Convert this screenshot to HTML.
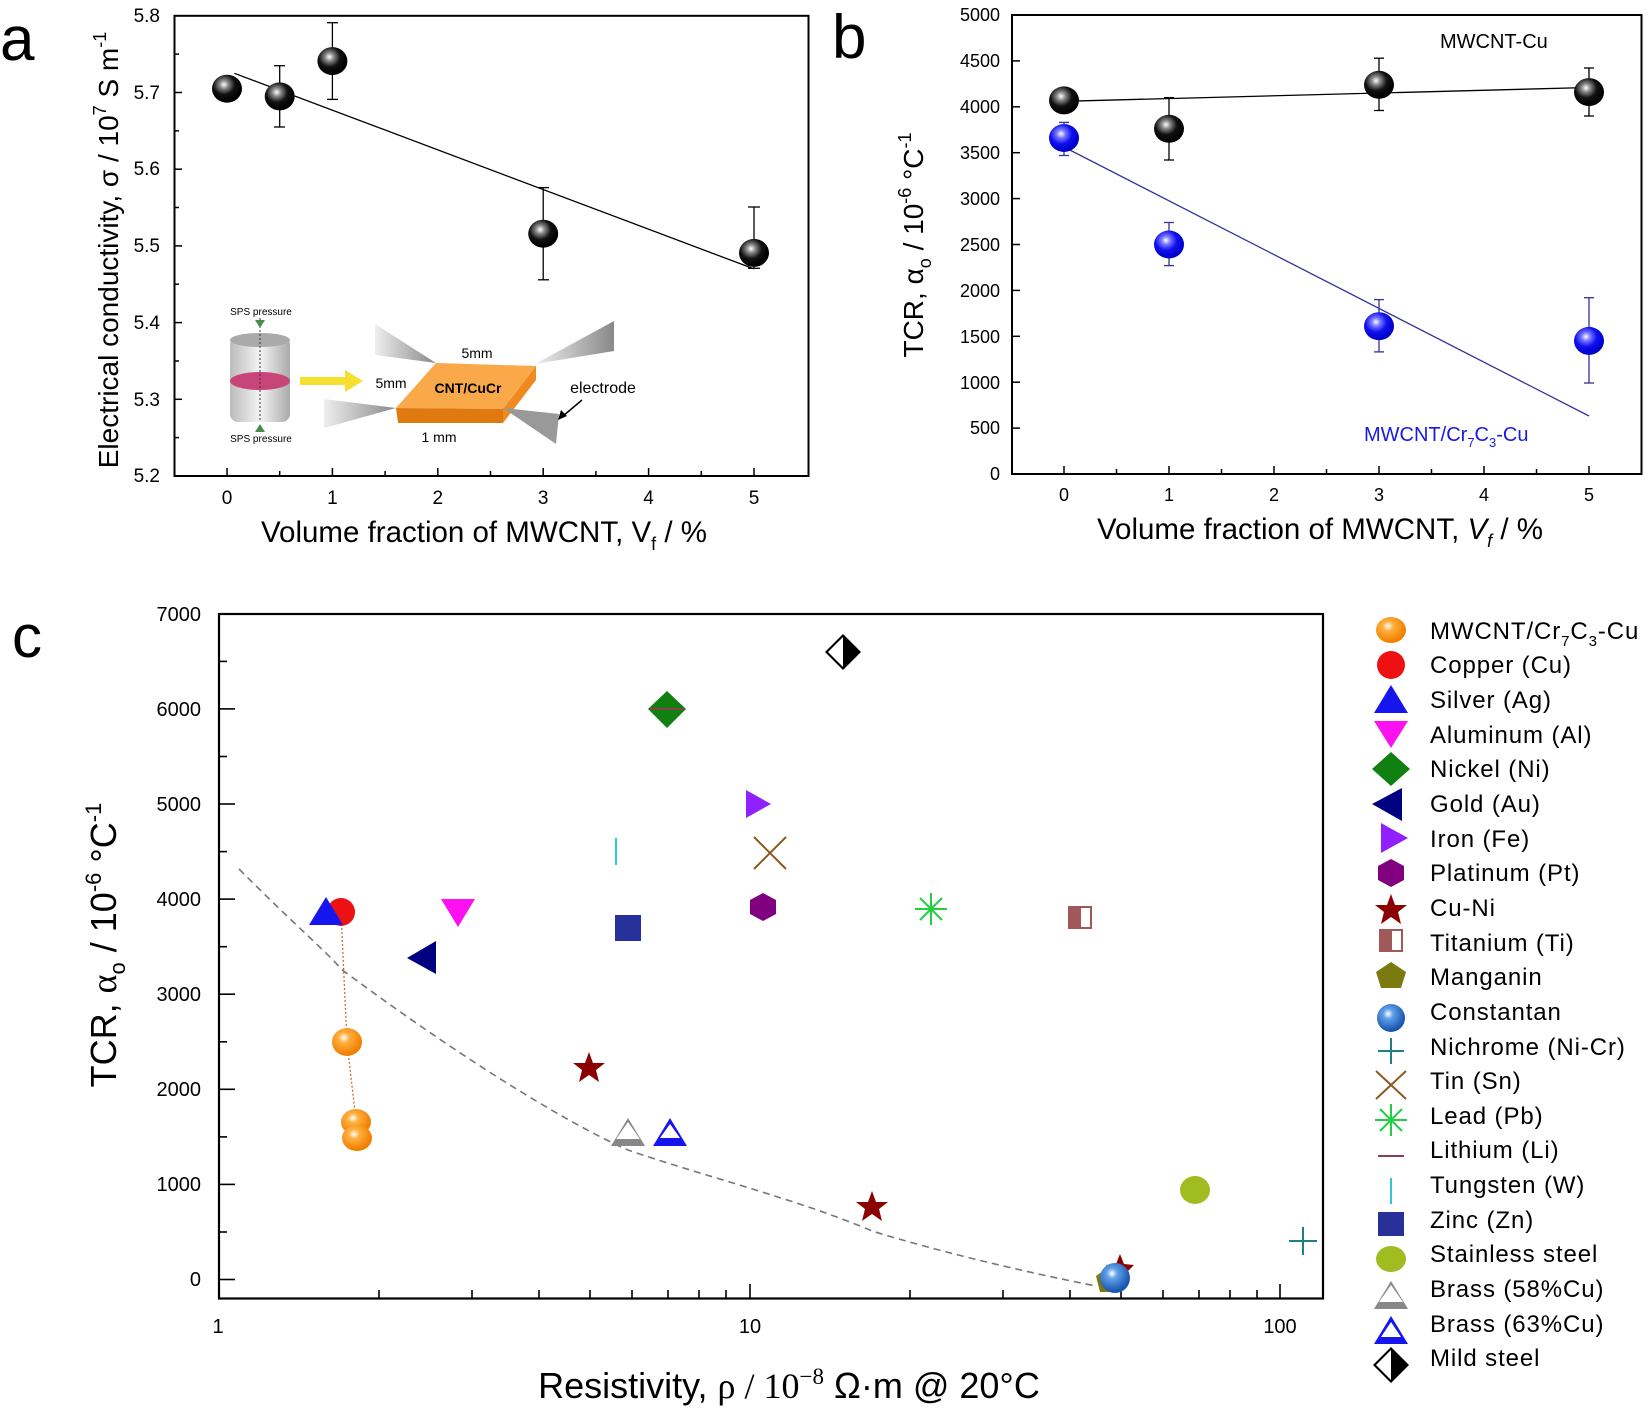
<!DOCTYPE html>
<html><head><meta charset="utf-8"><style>
html,body{margin:0;padding:0;background:#fff;}
svg{display:block;font-family:"Liberation Sans",Arial,sans-serif;}
</style></head><body>
<svg width="1650" height="1410" viewBox="0 0 1650 1410" xmlns="http://www.w3.org/2000/svg">
<defs>
<radialGradient id="gk" cx="0.4" cy="0.35" r="0.6"><stop offset="0" stop-color="#fff"/><stop offset="0.25" stop-color="#888"/><stop offset="0.6" stop-color="#111"/><stop offset="1" stop-color="#000"/></radialGradient>
<radialGradient id="gb" cx="0.4" cy="0.35" r="0.6"><stop offset="0" stop-color="#fff"/><stop offset="0.25" stop-color="#77f"/><stop offset="0.6" stop-color="#1010ee"/><stop offset="1" stop-color="#0000cc"/></radialGradient>
<radialGradient id="go" cx="0.4" cy="0.35" r="0.6"><stop offset="0" stop-color="#fff"/><stop offset="0.3" stop-color="#ffb040"/><stop offset="1" stop-color="#f08000"/></radialGradient>
<radialGradient id="gc" cx="0.4" cy="0.35" r="0.6"><stop offset="0" stop-color="#fff"/><stop offset="0.3" stop-color="#5fa0e8"/><stop offset="1" stop-color="#1a55b0"/></radialGradient>
<linearGradient id="gcyl" x1="0" x2="1"><stop offset="0" stop-color="#bbb"/><stop offset="0.5" stop-color="#f4f4f4"/><stop offset="1" stop-color="#aaa"/></linearGradient>
<linearGradient id="gel" x1="0" x2="1"><stop offset="0" stop-color="#eee"/><stop offset="1" stop-color="#888"/></linearGradient>
</defs>

<!-- ===== Panel a ===== -->
<text x="0" y="60" font-size="62">a</text>
<rect x="174.5" y="15.8" width="634" height="460.2" fill="none" stroke="#000" stroke-width="2"/>
<g stroke="#000" stroke-width="1.5">
<line x1="174.5" y1="399.3" x2="182" y2="399.3"/><line x1="174.5" y1="322.6" x2="182" y2="322.6"/><line x1="174.5" y1="245.9" x2="182" y2="245.9"/><line x1="174.5" y1="169.2" x2="182" y2="169.2"/><line x1="174.5" y1="92.5" x2="182" y2="92.5"/>
<line x1="174.5" y1="437.6" x2="179" y2="437.6"/><line x1="174.5" y1="361" x2="179" y2="361"/><line x1="174.5" y1="284.2" x2="179" y2="284.2"/><line x1="174.5" y1="207.5" x2="179" y2="207.5"/><line x1="174.5" y1="130.8" x2="179" y2="130.8"/><line x1="174.5" y1="54.1" x2="179" y2="54.1"/>
<line x1="227" y1="476" x2="227" y2="468"/><line x1="332.4" y1="476" x2="332.4" y2="468"/><line x1="437.8" y1="476" x2="437.8" y2="468"/><line x1="543.2" y1="476" x2="543.2" y2="468"/><line x1="648.6" y1="476" x2="648.6" y2="468"/><line x1="754" y1="476" x2="754" y2="468"/>
<line x1="279.7" y1="476" x2="279.7" y2="471"/><line x1="385.1" y1="476" x2="385.1" y2="471"/><line x1="490.5" y1="476" x2="490.5" y2="471"/><line x1="595.9" y1="476" x2="595.9" y2="471"/><line x1="701.3" y1="476" x2="701.3" y2="471"/>
</g>
<g font-size="19" text-anchor="end">
<text x="160" y="22">5.8</text><text x="160" y="99">5.7</text><text x="160" y="175">5.6</text><text x="160" y="252">5.5</text><text x="160" y="329">5.4</text><text x="160" y="406">5.3</text><text x="160" y="482">5.2</text>
</g>
<g font-size="19" text-anchor="middle">
<text x="227" y="504">0</text><text x="332.4" y="504">1</text><text x="437.8" y="504">2</text><text x="543.2" y="504">3</text><text x="648.6" y="504">4</text><text x="754" y="504">5</text>
</g>
<text x="484" y="542" font-size="29.5" text-anchor="middle">Volume fraction of MWCNT, V<tspan font-size="18" dy="8">f</tspan><tspan dy="-8"> / %</tspan></text>
<text transform="translate(118,250) rotate(-90)" font-size="28" text-anchor="middle">Electrical conductivity, σ / 10<tspan font-size="18" dy="-12">7</tspan><tspan dy="12"> S m</tspan><tspan font-size="18" dy="-12">-1</tspan></text>
<line x1="234.4" y1="73.3" x2="754" y2="268.9" stroke="#000" stroke-width="1.3"/>
<g stroke="#000" stroke-width="1.3">
<line x1="279.7" y1="65.7" x2="279.7" y2="127"/><line x1="274" y1="65.7" x2="285" y2="65.7"/><line x1="274" y1="127" x2="285" y2="127"/>
<line x1="332.4" y1="22.7" x2="332.4" y2="99.4"/><line x1="327" y1="22.7" x2="338" y2="22.7"/><line x1="327" y1="99.4" x2="338" y2="99.4"/>
<line x1="543.2" y1="187.6" x2="543.2" y2="279.8"/><line x1="538" y1="187.6" x2="549" y2="187.6"/><line x1="538" y1="279.8" x2="549" y2="279.8"/>
<line x1="754" y1="207" x2="754" y2="268.3"/><line x1="748" y1="207" x2="760" y2="207"/><line x1="748" y1="268.3" x2="760" y2="268.3"/>
</g>
<ellipse cx="227" cy="88.7" rx="15" ry="14" fill="url(#gk)"/>
<ellipse cx="279.7" cy="96.4" rx="15" ry="14" fill="url(#gk)"/>
<ellipse cx="332.4" cy="61.1" rx="15" ry="14" fill="url(#gk)"/>
<ellipse cx="543.2" cy="233.7" rx="15" ry="14" fill="url(#gk)"/>
<ellipse cx="754" cy="252.9" rx="15" ry="14" fill="url(#gk)"/>
<!-- inset -->
<rect x="230" y="337" width="60" height="85" rx="8" fill="url(#gcyl)"/>
<ellipse cx="260" cy="340" rx="30" ry="7" fill="#aaa"/>
<ellipse cx="260" cy="381" rx="30" ry="9" fill="#c8457a"/>
<line x1="260" y1="318" x2="260" y2="420" stroke="#333" stroke-dasharray="2,2"/>
<path d="M255 320 L265 320 L260 328Z" fill="#4a8a4a"/><path d="M255 432 L265 432 L260 424Z" fill="#4a8a4a"/>
<text x="261" y="315" font-size="10" text-anchor="middle">SPS pressure</text>
<text x="261" y="442" font-size="10" text-anchor="middle">SPS pressure</text>
<path d="M300 377 L345 377 L345 370 L363 381 L345 392 L345 385 L300 385Z" fill="#f5e030"/>
<polygon points="375,324 375,355 436,363" fill="url(#gel)"/>
<polygon points="614,321 614,351 535,364" fill="url(#gel)"/>
<polygon points="436,363 536,366 503,409 396,408" fill="#f9a84a"/>
<polygon points="396,408 503,409 503,423 398,423" fill="#e07a10"/>
<polygon points="503,409 536,366 536,380 503,423" fill="#f08a20"/>
<polygon points="324,399 324,428 396,408" fill="url(#gel)"/>
<polygon points="503,408 559,414 556,444" fill="#999"/>
<text x="477" y="358" font-size="14" text-anchor="middle">5mm</text>
<text x="391" y="388" font-size="14" text-anchor="middle">5mm</text>
<text x="468" y="393" font-size="14" font-weight="bold" text-anchor="middle">CNT/CuCr</text>
<text x="603" y="393" font-size="16" text-anchor="middle">electrode</text>
<text x="439" y="442" font-size="14" text-anchor="middle">1 mm</text>
<line x1="582" y1="400" x2="563" y2="416" stroke="#000" stroke-width="1.5"/><path d="M558 420 L561 410 L567 416Z" fill="#000"/>

<!-- ===== Panel b ===== -->
<text x="832" y="58" font-size="62">b</text>
<rect x="1012" y="15" width="629.5" height="459" fill="none" stroke="#000" stroke-width="2"/>
<g stroke="#000" stroke-width="1.5">
<line x1="1012" y1="428.1" x2="1020" y2="428.1"/><line x1="1012" y1="382.2" x2="1020" y2="382.2"/><line x1="1012" y1="336.3" x2="1020" y2="336.3"/><line x1="1012" y1="290.4" x2="1020" y2="290.4"/><line x1="1012" y1="244.5" x2="1020" y2="244.5"/><line x1="1012" y1="198.6" x2="1020" y2="198.6"/><line x1="1012" y1="152.7" x2="1020" y2="152.7"/><line x1="1012" y1="106.8" x2="1020" y2="106.8"/><line x1="1012" y1="60.9" x2="1020" y2="60.9"/>
<line x1="1064" y1="474" x2="1064" y2="466"/><line x1="1169" y1="474" x2="1169" y2="466"/><line x1="1274" y1="474" x2="1274" y2="466"/><line x1="1379" y1="474" x2="1379" y2="466"/><line x1="1484" y1="474" x2="1484" y2="466"/><line x1="1589" y1="474" x2="1589" y2="466"/>
<line x1="1116.5" y1="474" x2="1116.5" y2="469"/><line x1="1221.5" y1="474" x2="1221.5" y2="469"/><line x1="1326.5" y1="474" x2="1326.5" y2="469"/><line x1="1431.5" y1="474" x2="1431.5" y2="469"/><line x1="1536.5" y1="474" x2="1536.5" y2="469"/>
</g>
<g font-size="18" text-anchor="end">
<text x="1000" y="21">5000</text><text x="1000" y="67">4500</text><text x="1000" y="113">4000</text><text x="1000" y="159">3500</text><text x="1000" y="205">3000</text><text x="1000" y="251">2500</text><text x="1000" y="297">2000</text><text x="1000" y="343">1500</text><text x="1000" y="389">1000</text><text x="1000" y="434">500</text><text x="1000" y="480">0</text>
</g>
<g font-size="18" text-anchor="middle">
<text x="1064" y="501">0</text><text x="1169" y="501">1</text><text x="1274" y="501">2</text><text x="1379" y="501">3</text><text x="1484" y="501">4</text><text x="1589" y="501">5</text>
</g>
<text x="1320" y="539" font-size="29.5" text-anchor="middle">Volume fraction of MWCNT, <tspan font-style="italic">V</tspan><tspan font-size="18" font-style="italic" dy="8">f</tspan><tspan dy="-8"> / %</tspan></text>
<text transform="translate(923,245) rotate(-90)" font-size="28" text-anchor="middle">TCR, α<tspan font-size="18" dy="8">o</tspan><tspan dy="-8"> / 10</tspan><tspan font-size="18" dy="-12">-6</tspan><tspan dy="12"> °C</tspan><tspan font-size="18" dy="-12">-1</tspan></text>
<text x="1440" y="48" font-size="20" text-anchor="start">MWCNT-Cu</text>
<text x="1364" y="441" font-size="20" fill="#1a1ae0">MWCNT/Cr<tspan font-size="13" dy="6">7</tspan><tspan dy="-6">C</tspan><tspan font-size="13" dy="6">3</tspan><tspan dy="-6">-Cu</tspan></text>
<line x1="1064" y1="101.3" x2="1589" y2="87.5" stroke="#000" stroke-width="1.3"/>
<line x1="1064" y1="147" x2="1589" y2="416" stroke="#333399" stroke-width="1.3"/>
<g stroke="#000" stroke-width="1.3">
<line x1="1169" y1="97.6" x2="1169" y2="160"/><line x1="1164" y1="97.6" x2="1174" y2="97.6"/><line x1="1164" y1="160" x2="1174" y2="160"/>
<line x1="1379" y1="58.2" x2="1379" y2="110.5"/><line x1="1374" y1="58.2" x2="1384" y2="58.2"/><line x1="1374" y1="110.5" x2="1384" y2="110.5"/>
<line x1="1589" y1="68" x2="1589" y2="116"/><line x1="1584" y1="68" x2="1594" y2="68"/><line x1="1584" y1="116" x2="1594" y2="116"/>
</g>
<g stroke="#333399" stroke-width="1.3">
<line x1="1064" y1="122.4" x2="1064" y2="155.5"/><line x1="1059" y1="122.4" x2="1069" y2="122.4"/><line x1="1059" y1="155.5" x2="1069" y2="155.5"/>
<line x1="1169" y1="222.5" x2="1169" y2="265.6"/><line x1="1164" y1="222.5" x2="1174" y2="222.5"/><line x1="1164" y1="265.6" x2="1174" y2="265.6"/>
<line x1="1379" y1="299.6" x2="1379" y2="351.9"/><line x1="1374" y1="299.6" x2="1384" y2="299.6"/><line x1="1374" y1="351.9" x2="1384" y2="351.9"/>
<line x1="1589" y1="297.7" x2="1589" y2="383"/><line x1="1584" y1="297.7" x2="1594" y2="297.7"/><line x1="1584" y1="383" x2="1594" y2="383"/>
</g>
<ellipse cx="1064" cy="100.4" rx="15" ry="14" fill="url(#gk)"/>
<ellipse cx="1169" cy="128.8" rx="15" ry="14" fill="url(#gk)"/>
<ellipse cx="1379" cy="84.8" rx="15" ry="14" fill="url(#gk)"/>
<ellipse cx="1589" cy="92.1" rx="15" ry="14" fill="url(#gk)"/>
<ellipse cx="1064" cy="138" rx="15" ry="14" fill="url(#gb)"/>
<ellipse cx="1169" cy="244.5" rx="15" ry="14" fill="url(#gb)"/>
<ellipse cx="1379" cy="326.2" rx="15" ry="14" fill="url(#gb)"/>
<ellipse cx="1589" cy="340.9" rx="15" ry="14" fill="url(#gb)"/>

<!-- ===== Panel c ===== -->
<text x="12" y="657" font-size="60">c</text>
<rect x="219" y="614" width="1104" height="684.5" fill="none" stroke="#000" stroke-width="2.2"/>
<g stroke="#000" stroke-width="1.6">
<line x1="219" y1="1279.5" x2="235" y2="1279.5"/><line x1="219" y1="1184.4" x2="235" y2="1184.4"/><line x1="219" y1="1089.3" x2="235" y2="1089.3"/><line x1="219" y1="994.2" x2="235" y2="994.2"/><line x1="219" y1="899.1" x2="235" y2="899.1"/><line x1="219" y1="804" x2="235" y2="804"/><line x1="219" y1="708.9" x2="235" y2="708.9"/>
<line x1="219" y1="1232" x2="227" y2="1232"/><line x1="219" y1="1136.9" x2="227" y2="1136.9"/><line x1="219" y1="1041.8" x2="227" y2="1041.8"/><line x1="219" y1="946.7" x2="227" y2="946.7"/><line x1="219" y1="851.6" x2="227" y2="851.6"/><line x1="219" y1="756.5" x2="227" y2="756.5"/><line x1="219" y1="661.4" x2="227" y2="661.4"/>
<line x1="750" y1="1298.5" x2="750" y2="1284"/><line x1="1280" y1="1298.5" x2="1280" y2="1284"/>
<line x1="379" y1="1298.5" x2="379" y2="1290"/><line x1="472" y1="1298.5" x2="472" y2="1290"/><line x1="539" y1="1298.5" x2="539" y2="1290"/><line x1="590" y1="1298.5" x2="590" y2="1290"/><line x1="632" y1="1298.5" x2="632" y2="1290"/><line x1="668" y1="1298.5" x2="668" y2="1290"/><line x1="699" y1="1298.5" x2="699" y2="1290"/><line x1="726" y1="1298.5" x2="726" y2="1290"/>
<line x1="910" y1="1298.5" x2="910" y2="1290"/><line x1="1003" y1="1298.5" x2="1003" y2="1290"/><line x1="1070" y1="1298.5" x2="1070" y2="1290"/><line x1="1121" y1="1298.5" x2="1121" y2="1290"/><line x1="1163" y1="1298.5" x2="1163" y2="1290"/><line x1="1199" y1="1298.5" x2="1199" y2="1290"/><line x1="1230" y1="1298.5" x2="1230" y2="1290"/><line x1="1257" y1="1298.5" x2="1257" y2="1290"/>
</g>
<g font-size="20" text-anchor="end">
<text x="201" y="621">7000</text><text x="201" y="716">6000</text><text x="201" y="811">5000</text><text x="201" y="906">4000</text><text x="201" y="1001">3000</text><text x="201" y="1096">2000</text><text x="201" y="1191">1000</text><text x="201" y="1286">0</text>
</g>
<g font-size="20" text-anchor="middle">
<text x="218" y="1333">1</text><text x="750" y="1333">10</text><text x="1280" y="1333">100</text>
</g>
<text x="789" y="1398" font-size="36" text-anchor="middle">Resistivity, <tspan font-family="Liberation Serif,serif">ρ / 10</tspan><tspan font-family="Liberation Serif,serif" font-size="23" dy="-14">−8</tspan><tspan dy="14">  Ω·m @ 20°C</tspan></text>
<text transform="translate(116,945) rotate(-90)" font-size="36" text-anchor="middle">TCR, <tspan font-family="Liberation Serif,serif">α</tspan><tspan font-size="22" dy="9">o</tspan><tspan dy="-9"> / 10</tspan><tspan font-size="22" dy="-15">-6</tspan><tspan dy="15"> °C</tspan><tspan font-size="22" dy="-15">-1</tspan></text>
<path d="M239 869 C 300 930, 330 955, 341 969 C 450 1050, 560 1120, 628 1150 C 700 1175, 800 1200, 872 1231 C 950 1255, 1040 1275, 1096 1286" fill="none" stroke="#777" stroke-width="1.6" stroke-dasharray="7,5"/>
<line x1="341" y1="912" x2="347" y2="1042" stroke="#c87030" stroke-width="1.3" stroke-dasharray="2,2"/>
<line x1="347" y1="1042" x2="357" y2="1130" stroke="#c87030" stroke-width="1.3" stroke-dasharray="2,2"/>
<!-- markers -->
<ellipse cx="1195" cy="1190" rx="15" ry="14" fill="#a0bc20"/>
<path d="M1303 1227 V1255 M1289 1241 H1317" stroke="#208080" stroke-width="2"/>
<polygon points="1110,1266 1124,1276 1120,1292 1100,1292 1096,1276" fill="#7a7a10"/>
<path d="M1120 1254 L1124 1264 L1134 1265 L1127 1272 L1129 1282 L1120 1277 L1111 1282 L1113 1272 L1106 1265 L1116 1264Z" fill="#8b0000"/>
<circle cx="1115" cy="1278" r="15" fill="url(#gc)"/>
<circle cx="341" cy="912" r="14" fill="#ee1111"/>
<polygon points="326,897 343,925 309,925" fill="#1515ee"/>
<ellipse cx="347" cy="1042" rx="15" ry="14" fill="url(#go)"/>
<ellipse cx="356" cy="1122" rx="15" ry="13" fill="url(#go)"/>
<ellipse cx="357" cy="1138" rx="15" ry="13" fill="url(#go)"/>
<polygon points="441,899 475,899 458,927" fill="#ff10f0"/>
<polygon points="407,958 436,941 436,974" fill="#000080"/>
<line x1="616" y1="838" x2="616" y2="865" stroke="#30c8d0" stroke-width="2"/>
<rect x="615" y="915" width="26" height="26" fill="#28309a"/>
<polygon points="667,691 686,709 667,728 648,709" fill="#108010"/>
<line x1="650" y1="709" x2="684" y2="709" stroke="#8b4050" stroke-width="2"/>
<path d="M589 1052 L593 1063 L605 1063 L596 1070 L599 1082 L589 1075 L579 1082 L582 1070 L573 1063 L585 1063Z" fill="#8b0000"/>
<path d="M872 1191 L876 1202 L888 1202 L879 1209 L882 1221 L872 1214 L862 1221 L865 1209 L856 1202 L868 1202Z" fill="#8b0000"/>
<polygon points="628,1118 645,1146 611,1146" fill="#888"/><polygon points="628,1122 640,1139 616,1139" fill="#fff"/>
<polygon points="670,1118 687,1146 653,1146" fill="#1515ee"/><polygon points="670,1124 680,1138 660,1138" fill="#fff"/>
<polygon points="843,634 861,652 843,670 825,652" fill="#000"/><polygon points="843,637 843,667 828,652" fill="#fff"/>
<polygon points="746,790 771,804 746,818" fill="#9020ff"/>
<path d="M754 837 L786 869 M786 837 L754 869" stroke="#8b5a20" stroke-width="2"/>
<polygon points="763,893 776,900 776,914 763,921 750,914 750,900" fill="#800080"/>
<path d="M931 893 V925 M915 909 H947 M920 898 L942 920 M942 898 L920 920" stroke="#20d040" stroke-width="2"/>
<rect x="1068" y="906" width="24" height="23" fill="#a05858"/><rect x="1081" y="908" width="9" height="19" fill="#fff"/>
<!-- legend -->
<g font-size="24" letter-spacing="0.9">
<text x="1430" y="639">MWCNT/Cr<tspan font-size="15" dy="7">7</tspan><tspan dy="-7">C</tspan><tspan font-size="15" dy="7">3</tspan><tspan dy="-7">-Cu</tspan></text>
<text x="1430" y="673">Copper (Cu)</text>
<text x="1430" y="708">Silver (Ag)</text>
<text x="1430" y="743">Aluminum (Al)</text>
<text x="1430" y="777">Nickel (Ni)</text>
<text x="1430" y="812">Gold (Au)</text>
<text x="1430" y="847">Iron (Fe)</text>
<text x="1430" y="881">Platinum (Pt)</text>
<text x="1430" y="916">Cu-Ni</text>
<text x="1430" y="951">Titanium (Ti)</text>
<text x="1430" y="985">Manganin</text>
<text x="1430" y="1020">Constantan</text>
<text x="1430" y="1055">Nichrome (Ni-Cr)</text>
<text x="1430" y="1089">Tin (Sn)</text>
<text x="1430" y="1124">Lead (Pb)</text>
<text x="1430" y="1158">Lithium (Li)</text>
<text x="1430" y="1193">Tungsten (W)</text>
<text x="1430" y="1228">Zinc (Zn)</text>
<text x="1430" y="1262">Stainless steel</text>
<text x="1430" y="1297">Brass (58%Cu)</text>
<text x="1430" y="1332">Brass (63%Cu)</text>
<text x="1430" y="1366">Mild steel</text>
</g>
<ellipse cx="1391" cy="630" rx="15" ry="13" fill="url(#go)"/>
<circle cx="1391" cy="665" r="14" fill="#ee1111"/>
<polygon points="1391,685 1408,713 1374,713" fill="#1515ee"/>
<polygon points="1374,721 1408,721 1391,748" fill="#ff10f0"/>
<polygon points="1391,752 1410,769 1391,786 1372,769" fill="#108010"/>
<polygon points="1372,804 1402,788 1402,821" fill="#000080"/>
<polygon points="1381,823 1408,838 1381,853" fill="#9020ff"/>
<polygon points="1391,859 1404,866 1404,880 1391,887 1378,880 1378,866" fill="#800080"/>
<path d="M1391 894 L1395 905 L1407 905 L1398 912 L1401 924 L1391 917 L1381 924 L1384 912 L1375 905 L1387 905Z" fill="#8b0000"/>
<rect x="1379" y="929" width="24" height="23" fill="#a05858"/><rect x="1392" y="931" width="9" height="19" fill="#fff"/>
<polygon points="1391,962 1406,972 1401,988 1381,988 1376,972" fill="#7a7a10"/>
<circle cx="1391" cy="1018" r="14" fill="url(#gc)"/>
<path d="M1391 1038 V1064 M1378 1051 H1404" stroke="#208080" stroke-width="2"/>
<path d="M1376 1071 L1406 1099 M1406 1071 L1376 1099" stroke="#8b5a20" stroke-width="2"/>
<path d="M1391 1104 V1136 M1375 1120 H1407 M1380 1109 L1402 1131 M1402 1109 L1380 1131" stroke="#20d040" stroke-width="2"/>
<line x1="1378" y1="1156" x2="1404" y2="1156" stroke="#8b4050" stroke-width="2"/>
<line x1="1391" y1="1178" x2="1391" y2="1204" stroke="#30c8d0" stroke-width="2"/>
<rect x="1378" y="1212" width="26" height="24" fill="#28309a"/>
<ellipse cx="1391" cy="1259" rx="15" ry="13" fill="#a0bc20"/>
<polygon points="1391,1281 1408,1309 1374,1309" fill="#888"/><polygon points="1391,1285 1403,1302 1379,1302" fill="#fff"/>
<polygon points="1391,1316 1408,1344 1374,1344" fill="#1515ee"/><polygon points="1391,1322 1401,1337 1381,1337" fill="#fff"/>
<polygon points="1391,1347 1409,1365 1391,1383 1373,1365" fill="#000"/><polygon points="1391,1350 1391,1380 1376,1365" fill="#fff"/>
</svg>
</body></html>
